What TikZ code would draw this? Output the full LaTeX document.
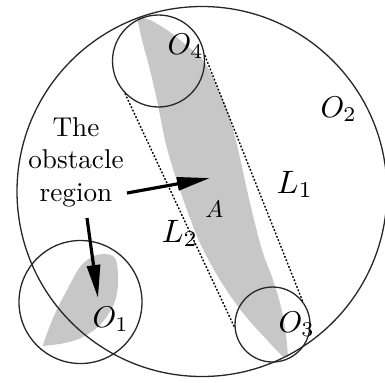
\documentclass[tikz,border=0pt]{standalone}
\usepackage{fontspec}
\usetikzlibrary{arrows.meta}

\begin{document}
\begin{tikzpicture}[x=0.5pt,y=-0.5pt,
			vong/.style={
				circle,
				draw=black!85,
				line width=0.65pt,
				inner sep=0pt
			},
			tiep/.style={
				black,
				line width=0.7pt,
				dash pattern=on 0.9pt off 0.9pt
			},
			mui/.style={
				line width=1.6pt,
				-{Triangle[length=16.5pt,width=6.5pt]}
			},
			nhan/.style={
				anchor=base west,
				inner sep=0pt,
				scale=1.5
			}
			]
			\useasboundingbox (0,0) rectangle (385,382);
			%---------------- VUNG CHE ----------------
			\fill[black!22] plot[smooth,tension=0.6] coordinates {(137,17) (150,20) (167,30) (180,40) (200,57) (208,68) (217,87) (227,110) (234,133) (240,158) (250,203) (262,250) (272,277) (281,307) (286,335) (288,357)}
				-- plot[smooth,tension=0.6] coordinates {(283,357) (267,340) (243,313) (220,280) (200,243) (187,210) (174,172) (165,140) (158,105) (150,70) (142,40) (137,17)} -- cycle;
			\fill[black!22] plot[smooth,tension=0.6] coordinates {(43,345) (53,318) (67,290) (80,267) (92,257) (104,254) (115,258) (118,275) (117,293) (112,308) (100,325) (83,337) (65,343) (43,346)} -- cycle;
			%---------------- CAC VONG ----------------
			\node[vong,minimum size=185pt] (O2) at (202,191.5) {};
			\node[vong,minimum size=46pt] (O4) at (158.5,61) {};
			\node[vong,minimum size=37.5pt] (O3) at (272.5,324.5) {};
			\node[vong,minimum size=61.5pt] (O1) at (80.5,302) {};
			%---------------- TIEP TUYEN ----------------
			\draw[tiep] (O4.7) -- (O3.38);
			\draw[tiep] (O4.224) -- (O3.184);
			%---------------- CHU THICH ----------------
			\node[align=center,scale=1.36] (vat) at (76,162) {The\\obstacle\\region};
			\coordinate (goc1) at (127,193);
			\coordinate (dich1) at (210,178);
			\coordinate (goc2) at (87,218);
			\coordinate (dich2) at (98,298);
			\draw[mui] (goc1) -- (dich1);
			\draw[mui] (goc2) -- (dich2);
			\node[nhan] (tO4) at (167,54) {$O_4$};
			\node[nhan] (tO2) at (320,117) {$O_2$};
			\node[nhan] (tO1) at (92,327) {$O_1$};
			\node[nhan] (tO3) at (278,332) {$O_3$};
			\node[nhan,scale=1.08] (tL1) at (276,193) {$L_1$};
			\node[nhan,scale=1.08] (tL2) at (161,242) {$L_2$};
			\node[nhan,scale=0.8] (tA) at (205,217) {$A$};
		\end{tikzpicture}
\end{document}
